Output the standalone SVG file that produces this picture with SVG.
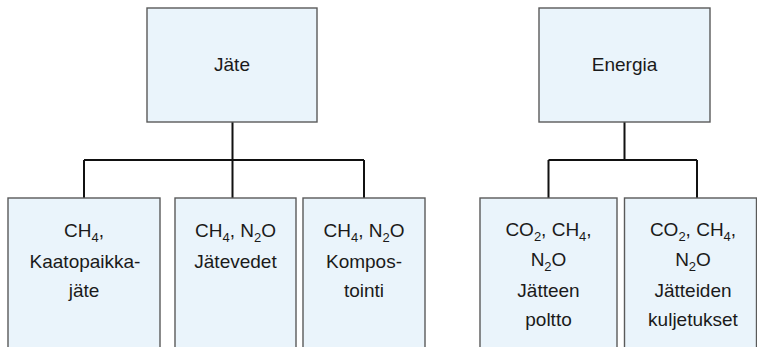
<svg xmlns="http://www.w3.org/2000/svg" width="757" height="347" viewBox="0 0 757 347">
<style>
.box{fill:#EAF4FB;stroke:#5a5a5a;stroke-width:1.4}
.t{font-family:"Liberation Sans",Arial,sans-serif;font-size:19px;fill:#1a1a1a;text-anchor:middle}
.s{font-size:13px}
.c{fill:none;stroke:#111;stroke-width:2}
</style>
<rect width="757" height="347" fill="#fff"/>
<g id="connectors">
<path class="c" d="M232.5,122V160M84,160H364M84,160V198M232.5,160V198M364,160V198"/>
<path class="c" d="M624.5,122V160M548.5,160H697M548.5,160V198M697,160V198"/>
</g>
<g id="jate">
<rect class="box" x="147" y="8" width="170" height="114"/>
<text class="t" x="232" y="71">Jäte</text>
</g>
<g id="energia">
<rect class="box" x="539" y="8" width="171" height="114"/>
<text class="t" x="624.5" y="71">Energia</text>
</g>
<g id="kaatopaikka">
<rect class="box" x="8" y="198" width="152" height="160"/>
<text class="t" x="84" y="237">CH<tspan class="s" dy="5">4</tspan><tspan dy="-5">,</tspan></text>
<text class="t" x="85" y="268">Kaatopaikka-</text>
<text class="t" x="84" y="297">jäte</text>
</g>
<g id="jatevedet">
<rect class="box" x="175" y="198" width="121" height="160"/>
<text class="t" x="235.5" y="237">CH<tspan class="s" dy="5">4</tspan><tspan dy="-5">, N</tspan><tspan class="s" dy="5">2</tspan><tspan dy="-5">O</tspan></text>
<text class="t" x="235.5" y="268">Jätevedet</text>
</g>
<g id="kompostointi">
<rect class="box" x="303" y="198" width="122" height="160"/>
<text class="t" x="364" y="237">CH<tspan class="s" dy="5">4</tspan><tspan dy="-5">, N</tspan><tspan class="s" dy="5">2</tspan><tspan dy="-5">O</tspan></text>
<text class="t" x="364" y="268">Kompos-</text>
<text class="t" x="364" y="297">tointi</text>
</g>
<g id="poltto">
<rect class="box" x="480" y="198" width="137" height="160"/>
<text class="t" x="548.5" y="236">CO<tspan class="s" dy="5">2</tspan><tspan dy="-5">, CH</tspan><tspan class="s" dy="5">4</tspan><tspan dy="-5">,</tspan></text>
<text class="t" x="548.5" y="266">N<tspan class="s" dy="5">2</tspan><tspan dy="-5">O</tspan></text>
<text class="t" x="548.5" y="297">Jätteen</text>
<text class="t" x="548.5" y="326">poltto</text>
</g>
<g id="kuljetukset">
<rect class="box" x="624.5" y="198" width="132" height="160"/>
<text class="t" x="693" y="236">CO<tspan class="s" dy="5">2</tspan><tspan dy="-5">, CH</tspan><tspan class="s" dy="5">4</tspan><tspan dy="-5">,</tspan></text>
<text class="t" x="693" y="266">N<tspan class="s" dy="5">2</tspan><tspan dy="-5">O</tspan></text>
<text class="t" x="693" y="297">Jätteiden</text>
<text class="t" x="693" y="326">kuljetukset</text>
</g>
</svg>
